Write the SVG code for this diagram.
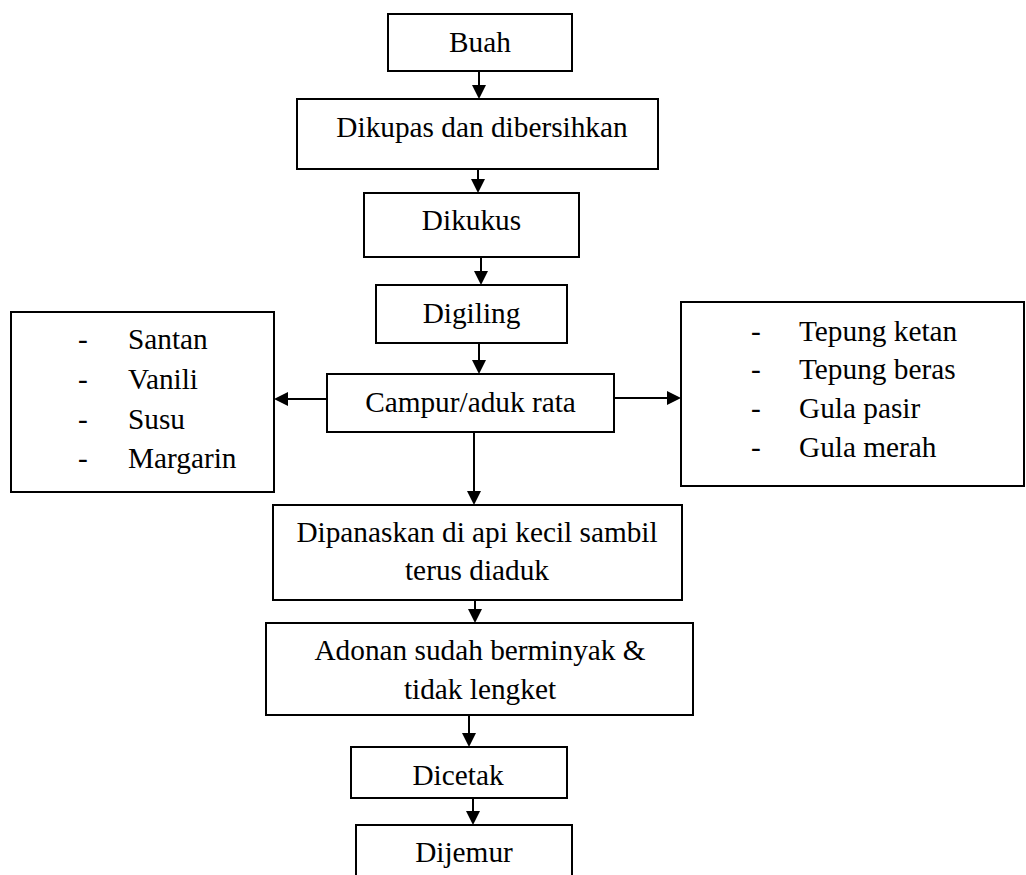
<svg xmlns="http://www.w3.org/2000/svg" width="1026" height="875" viewBox="0 0 1026 875">
<style>
.box{fill:#fff;stroke:#000;stroke-width:2}
.t{font-family:"Liberation Serif","Times New Roman",serif;font-size:29.3px;fill:#000}
.c{text-anchor:middle}
.con{stroke:#000;stroke-width:2;fill:none;marker-end:url(#ah)}
</style>
<defs>
<marker id="ah" markerUnits="userSpaceOnUse" markerWidth="14" markerHeight="14" refX="12" refY="7" orient="auto">
<path d="M0,0 L14,7 L0,14 z" fill="#000"/>
</marker>
</defs>
<rect width="1026" height="875" fill="#fff"/>
<g id="connectors">
<line class="con" x1="479" y1="71" x2="479" y2="97"/>
<line class="con" x1="478" y1="169" x2="478" y2="191"/>
<line class="con" x1="481" y1="257" x2="481" y2="283"/>
<line class="con" x1="479" y1="343" x2="479" y2="372"/>
<line class="con" x1="327" y1="399" x2="276" y2="399"/>
<line class="con" x1="614" y1="398" x2="679" y2="398"/>
<line class="con" x1="474" y1="432" x2="474" y2="503"/>
<line class="con" x1="475" y1="600" x2="475" y2="621"/>
<line class="con" x1="469" y1="715" x2="469" y2="745"/>
<line class="con" x1="473" y1="798" x2="473" y2="823"/>
</g>
<g id="buah">
<rect class="box" x="388" y="14" width="184" height="57"/>
<text class="t c" x="480" y="52">Buah</text>
</g>
<g id="dikupas">
<rect class="box" x="297" y="99" width="361" height="70"/>
<text class="t c" x="482" y="137">Dikupas dan dibersihkan</text>
</g>
<g id="dikukus">
<rect class="box" x="364" y="193" width="215" height="64"/>
<text class="t c" x="471.5" y="230">Dikukus</text>
</g>
<g id="digiling">
<rect class="box" x="376" y="285" width="191" height="58"/>
<text class="t c" x="471.5" y="323">Digiling</text>
</g>
<g id="campur">
<rect class="box" x="327" y="374" width="287" height="58"/>
<text class="t c" x="470.5" y="412">Campur/aduk rata</text>
</g>
<g id="bahan-kiri">
<rect class="box" x="11" y="312" width="263" height="180"/>
<text class="t" x="78" y="349">-</text><text class="t" x="128" y="349">Santan</text>
<text class="t" x="78" y="389">-</text><text class="t" x="128" y="389">Vanili</text>
<text class="t" x="78" y="429">-</text><text class="t" x="128" y="429">Susu</text>
<text class="t" x="78" y="468">-</text><text class="t" x="128" y="468">Margarin</text>
</g>
<g id="bahan-kanan">
<rect class="box" x="681" y="302" width="343" height="184"/>
<text class="t" x="751" y="341">-</text><text class="t" x="799" y="341">Tepung ketan</text>
<text class="t" x="751" y="379">-</text><text class="t" x="799" y="379">Tepung beras</text>
<text class="t" x="751" y="418">-</text><text class="t" x="799" y="418">Gula pasir</text>
<text class="t" x="751" y="457">-</text><text class="t" x="799" y="457">Gula merah</text>
</g>
<g id="dipanaskan">
<rect class="box" x="273" y="505" width="409" height="95"/>
<text class="t c" x="477" y="542">Dipanaskan di api kecil sambil</text>
<text class="t c" x="477" y="580">terus diaduk</text>
</g>
<g id="adonan">
<rect class="box" x="266" y="623" width="427" height="92"/>
<text class="t c" x="480" y="660">Adonan sudah berminyak &amp;</text>
<text class="t c" x="480" y="699">tidak lengket</text>
</g>
<g id="dicetak">
<rect class="box" x="351" y="747" width="216" height="51"/>
<text class="t c" x="458" y="785">Dicetak</text>
</g>
<g id="dijemur">
<rect class="box" x="356" y="825" width="216" height="80"/>
<text class="t c" x="464" y="862">Dijemur</text>
</g>
</svg>
